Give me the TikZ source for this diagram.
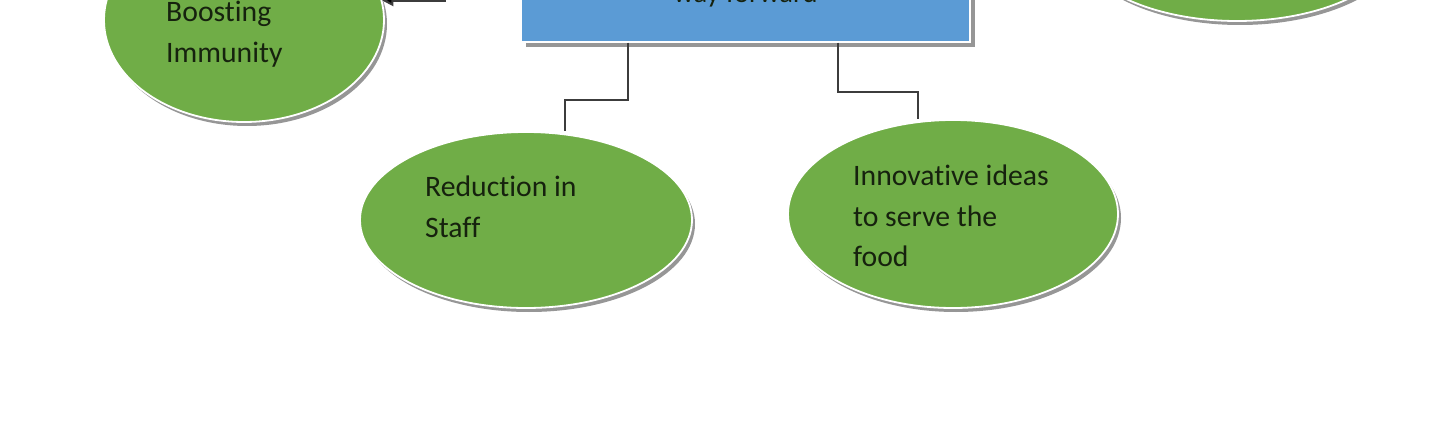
\documentclass[tikz,border=0pt]{standalone}
\usepackage{fontspec}
\setmainfont{Carlito}[Ligatures=NoCommon]
\usetikzlibrary{shapes.geometric,arrows.meta,shadows}
\definecolor{grn}{RGB}{112,173,71}
\definecolor{blu}{RGB}{91,155,213}
\definecolor{shd}{RGB}{150,150,150}
\definecolor{lnc}{RGB}{60,60,60}
\definecolor{txtc}{RGB}{22,34,14}
\tikzset{
  oval/.style={ellipse, fill=grn, draw=white, line width=1.8pt, inner sep=0pt,
    drop shadow={shadow xshift=3pt, shadow yshift=-4pt, fill=shd, opacity=1}},
  bluebox/.style={rectangle, fill=blu, draw=white, line width=1.5pt, inner sep=0pt,
    minimum width=449pt, minimum height=95pt, text=txtc,
    font=\fontsize{28.5}{40.5}\selectfont,
    drop shadow={shadow xshift=5pt, shadow yshift=-5pt, fill=shd, opacity=1}},
  ovaltext/.style={anchor=north west, inner sep=0pt, align=left, text=txtc,
    font=\fontsize{29.7}{40.5}\selectfont},
  conn/.style={draw=lnc, line width=2pt},
  arr/.style={conn, -{Triangle[width=11pt,length=11pt,fill=black]}}
}
\begin{document}
\begin{tikzpicture}[x=1pt,y=-1pt]
\useasboundingbox (0,0) rectangle (1456,422);
\clip (0,0) rectangle (1456,422);
\fill[white] (0,0) rectangle (1456,422);
% nodes
\node[bluebox] (box) at (745.5,-5.5) {way forward};
\node[oval, minimum width=280pt, minimum height=204pt] (boost) at (244,20) {};
\node[oval, minimum width=330pt, minimum height=170pt] (tr) at (1237,-64) {};
\node[oval, minimum width=332pt, minimum height=176pt] (red) at (526,220) {};
\node[oval, minimum width=330pt, minimum height=188pt] (inno) at (953,214) {};
% texts
\node[ovaltext] (boostt) at (166,1) {Boosting\\Immunity};
\node[ovaltext] (redt) at (425,176) {Reduction in\\Staff};
\node[ovaltext] (innot) at (853,165) {Innovative ideas\\to serve the\\food};
% connectors
\coordinate (src) at (445,-30);
\draw[arr] (src) |- (boost.8);
\draw[conn] ([xshift=108pt]box.south west) -- ++(0,57) -| ([xshift=39pt]red.north);
\draw[conn] ([xshift=318pt]box.south west) -- ++(0,49) -| ([xshift=-35pt]inno.north);
\end{tikzpicture}
\end{document}
